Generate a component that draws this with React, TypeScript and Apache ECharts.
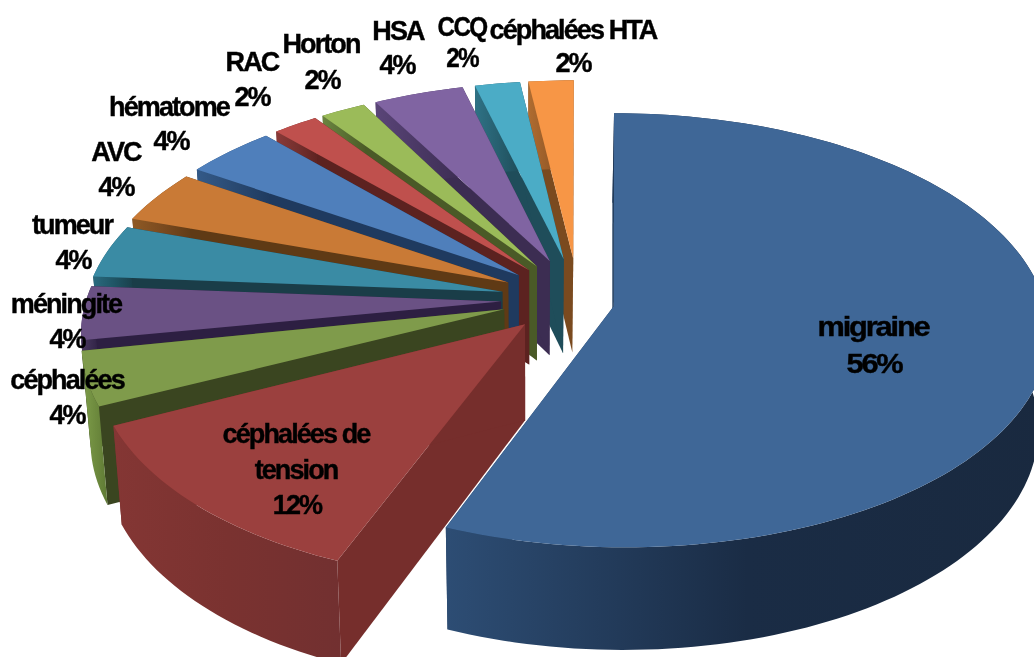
import React, { useEffect, useRef } from "react";
import * as echarts from "echarts";

const categories = ["migraine", "céphalées de tension", "céphalées", "méningite", "tumeur", "AVC", "hématome", "RAC", "Horton", "HSA", "CCQ", "céphalées HTA"];
const percents = [56, 12, 4, 4, 4, 4, 4, 2, 2, 4, 2, 2];

const topColors = ["#3f6797", "#9b403e", "#7f9b4b", "#6a5184", "#3a8ba4", "#c97a36", "#4f7fbb", "#bf504d", "#9bbb59", "#8064a2", "#4bacc6", "#f79646"];
const cutColors = ["#243f60", "#762e2c", "#3a4520", "#2d1f42", "#1a3d48", "#5f3a15", "#1f3a5f", "#5c2220", "#4a5a27", "#3c2d52", "#1f4d5a", "#7a4a1f"];
const wallStops: string[][] = [
  ["#2d4d74", "#1a2c45", "#19293f"],
  ["#843634", "#7a3230", "#723030"],
  ["#7f9f4b", "#6f8c3f", "#5f7a35"],
  ["#4a3860", "#3c2d52", "#2d1f42"],
  ["#2a6a7e", "#1f5565", "#1a3d48"],
  ["#8f5a25", "#7a4a1f", "#5f3a15"],
  ["#345a88", "#2a4a72", "#1f3a5f"],
  ["#8a3a38", "#74302e", "#5c2220"],
  ["#6a8440", "#5a7033", "#4a5a27"],
  ["#5a4578", "#4a3864", "#3c2d52"],
  ["#2f7285", "#276070", "#1f4d5a"],
  ["#b06c30", "#955a28", "#7a4a1f"],
];

// how far each slice is pulled out of the pie, as a share of the radius
const explosions = [0.098, 0.186, 0.186, 0.186, 0.186, 0.186, 0.186, 0.186, 0.186, 0.186, 0.186, 0.186];
// horizontal radius of each slice on the page
const radiiX = [424, 416, 414, 414, 416, 419, 420, 420, 420, 420, 420, 420];
// small correction of each slice's inner point on the page
const apexNudges = [[-5, 5], [1, -2], [0, 0], [0, 2], [0, 2], [0, 2], [0, 3], [0, 3], [0, 2], [0, 0], [0, 0], [0, 0]];

// projection of the pie plane onto the page
const CX = 578, CY = 297, RY = 212, PERSP = 0.135;

// label text lines and where each line sits
const labelLines: string[][] = [
  ["migraine", "56%"],
  ["céphalées de", "tension", "12%"],
  ["céphalées", "4%"],
  ["méningite", "4%"],
  ["tumeur", "4%"],
  ["AVC", "4%"],
  ["hématome", "4%"],
  ["RAC", "2%"],
  ["Horton", "2%"],
  ["HSA", "4%"],
  ["CCQ", "2%"],
  ["céphalées HTA", "2%"],
];
const labelPlaces: number[][][] = [
  [[873, 327], [874, 364]],
  [[296, 434], [296, 470], [297, 505]],
  [[67, 380], [67, 415]],
  [[66, 304], [67, 339]],
  [[72, 225], [73, 260]],
  [[116, 152], [116, 187]],
  [[169, 107], [171, 141]],
  [[252, 62], [252, 97]],
  [[321, 44], [322, 80]],
  [[398, 31], [397, 65]],
  [[462, 27], [462, 58]],
  [[573, 30], [573, 63]],
];
const labelStretch = [1.14, 1, 1, 1, 1, 1, 1, 1, 1, 1, 0.9, 1];
const LABEL_SIZE = 27;

const total = percents.reduce((a, b) => a + b, 0);
const starts: number[] = [];
percents.reduce((acc, v, i) => {
  starts[i] = acc;
  return acc + v;
}, 0);
const toRad = (v: number) => (v / total) * Math.PI * 2;

function project(i: number, u: number, v: number): number[] {
  const w = 1 + PERSP * v;
  return [CX + (radiiX[i] * u) / w, CY - (RY * v) / w];
}
// the lower face of the pie, a little further from the eye
function lower(p: number[]): number[] {
  return [530 + (p[0] - 530) * 0.98, p[1] + 94 + 0.03 * (p[1] - 260)];
}

function renderSlice(_params: any, api: any) {
  const i = api.value(0);
  const a0 = toRad(starts[i]);
  const a1 = toRad(starts[i] + api.value(1));
  const mid = (a0 + a1) / 2;
  const ou = explosions[i] * Math.sin(mid);
  const ov = explosions[i] * Math.cos(mid);
  const base = project(i, ou, ov);
  const apex = [base[0] + apexNudges[i][0], base[1] + apexNudges[i][1]];
  const steps = Math.max(6, Math.round((a1 - a0) * 40));
  const rim: number[][] = [];
  for (let k = 0; k <= steps; k++) {
    const t = a0 + ((a1 - a0) * k) / steps;
    rim.push(project(i, ou + Math.sin(t), ov + Math.cos(t)));
  }
  const rimLow = rim.map(lower);
  const stops = wallStops[i];
  const wallFill = new echarts.graphic.LinearGradient(0, 0, 1, 0, [
    { offset: 0, color: stops[0] },
    { offset: 0.5, color: stops[1] },
    { offset: 1, color: stops[2] },
  ]);
  const quad = (a: number[], b: number[]) => [a, b, lower(b), lower(a)];
  const poly = (points: number[][], fill: any) => ({
    type: "polygon",
    shape: { points },
    style: { fill, stroke: null },
    silent: true,
  });
  return {
    type: "group",
    children: [
      poly(quad(apex, rim[0]), cutColors[i]),
      poly(quad(apex, rim[steps]), cutColors[i]),
      poly([...rim, ...rimLow.slice().reverse()], wallFill),
      poly([apex, ...rim], topColors[i]),
    ],
  };
}

function renderLabel(_params: any, api: any) {
  const i = api.value(0);
  return {
    type: "group",
    children: labelLines[i].map((line, k) => ({
      type: "text",
      x: labelPlaces[i][k][0],
      y: labelPlaces[i][k][1],
      scaleX: labelStretch[i],
      silent: true,
      style: {
        text: line,
        align: "center",
        verticalAlign: "middle",
        fill: "#000000",
        stroke: "#000000",
        lineWidth: 0.4,
        font: `bold ${LABEL_SIZE}px "Liberation Sans", Arial, sans-serif`,
      },
    })),
  };
}

export default function App() {
  const ref = useRef<HTMLDivElement>(null);
  useEffect(() => {
    const chart = echarts.init(ref.current as HTMLDivElement, undefined, { renderer: "svg" });
    // far slices first, the big slice last
    const order = percents.map((_, i) => i).reverse();
    chart.setOption({
      animation: false,
      backgroundColor: "#ffffff",
      tooltip: { show: false },
      series: [
        {
          type: "custom",
          name: "slices",
          coordinateSystem: "none",
          renderItem: renderSlice,
          data: order.map((i) => ({ name: categories[i], value: [i, percents[i]] })),
          z: 2,
          silent: true,
        },
        {
          type: "custom",
          name: "labels",
          coordinateSystem: "none",
          renderItem: renderLabel,
          data: categories.map((name, i) => ({ name, value: [i, percents[i]] })),
          z: 3,
          silent: true,
        },
      ],
    });
    return () => chart.dispose();
  }, []);
  return (
    <>
      <style>{`html,body{margin:0;padding:0;background:#fff}svg text{letter-spacing:-1.9px}`}</style>
      <div ref={ref} style={{ position: "fixed", left: 0, top: 0, width: 1034, height: 657, overflow: "hidden", filter: "blur(0.4px)" }} />
    </>
  );
}
